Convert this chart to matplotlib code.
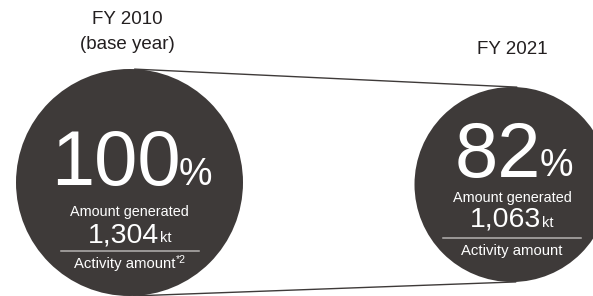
import matplotlib.pyplot as plt
import numpy as np
from matplotlib.patches import Circle

# values
years = ['FY 2010', 'FY 2021']
year_notes = ['(base year)', '']
percent = [100, 82]
amount_kt = [1304, 1063]
activity = ['Activity amount', 'Activity amount']
activity_notes = ['*2', '']

plt.rcParams['font.family'] = ['Liberation Sans', 'DejaVu Sans']

dark = '#3e3a39'
rule_color = '#b4b2b1'
title_color = '#231f20'

# layout (pixels, y down)
centers = [(129.5, 182.5), (512.0, 184.5)]
radii = [113.5, 97.5]
title_x = [127, 512.5]
title_y = [(19.5, 44.5), (49, None)]
# baselines: big number, label, amount, rule, activity
rows = [(185, 216, 242, 251, 268), (176.5, 202, 227, 237.5, 255)]

fig = plt.figure(figsize=(5.93, 2.96), dpi=100)
ax = fig.add_axes([0, 0, 1, 1])
ax.set_xlim(0, 593)
ax.set_ylim(296, 0)
ax.axis('off')
renderer = fig.canvas.get_renderer()


def width(t):
    return t.get_window_extent(renderer).width


def pair(cx, y, s1, kw1, s2, kw2, gap, va='baseline'):
    # two texts side by side, centred as one block on cx
    t1 = ax.text(0, y, s1, ha='left', va=va, color='white', **kw1)
    t2 = ax.text(0, y, s2, ha='left', va=va, color='white', **kw2)
    w1, w2 = width(t1), width(t2)
    x0 = cx - (w1 + gap + w2) / 2
    t1.set_x(x0)
    t2.set_x(x0 + w1 + gap)


# tangent lines between the two circles
c1, c2 = np.array(centers[0]), np.array(centers[1])
r1, r2 = radii
d = np.linalg.norm(c2 - c1)
phi = np.arctan2(c2[1] - c1[1], c2[0] - c1[0])
theta = np.arccos((r2 - r1) / d)
for s in (1, -1):
    a = phi + s * theta
    n = np.array([np.cos(a), np.sin(a)])
    p1 = c1 - r1 * n
    p2 = c2 - r2 * n
    ax.plot([p1[0], p2[0]], [p1[1], p2[1]], color=dark, lw=1.0, zorder=1)

for i in range(len(years)):
    cx, cy = centers[i]
    r = radii[i]
    ax.add_patch(Circle((cx, cy), r, color=dark, zorder=2, lw=0))

    ty1, ty2 = title_y[i]
    ax.text(title_x[i], ty1, years[i], ha='center', va='center',
            fontsize=13.5, color=title_color)
    if year_notes[i]:
        ax.text(title_x[i], ty2, year_notes[i], ha='center', va='center',
                fontsize=13.5, color=title_color)

    yb, yl, ya, yr, yact = rows[i]
    pair(cx + 2, yb, str(percent[i]), dict(fontsize=56),
         '%', dict(fontsize=27), -2)
    ax.text(cx, yl, 'Amount generated', ha='center', va='baseline',
            fontsize=10.4, color='white')
    pair(cx, ya, f'{amount_kt[i]:,}', dict(fontsize=20.5),
         'kt', dict(fontsize=10.5), 1)
    ax.plot([cx - 69, cx + 69], [yr, yr], color=rule_color, lw=1.1, zorder=3)
    if activity_notes[i]:
        t1 = ax.text(0, yact, activity[i], ha='left', va='baseline',
                     fontsize=10.7, color='white')
        t2 = ax.text(0, yact - 5, activity_notes[i], ha='left', va='baseline',
                     fontsize=7.5, color='white')
        w1, w2 = width(t1), width(t2)
        x0 = cx - (w1 + w2) / 2
        t1.set_x(x0)
        t2.set_x(x0 + w1 + 0.5)
    else:
        ax.text(cx, yact, activity[i], ha='center', va='baseline',
                fontsize=10.7, color='white')

fig.savefig('out.png', dpi=100)
